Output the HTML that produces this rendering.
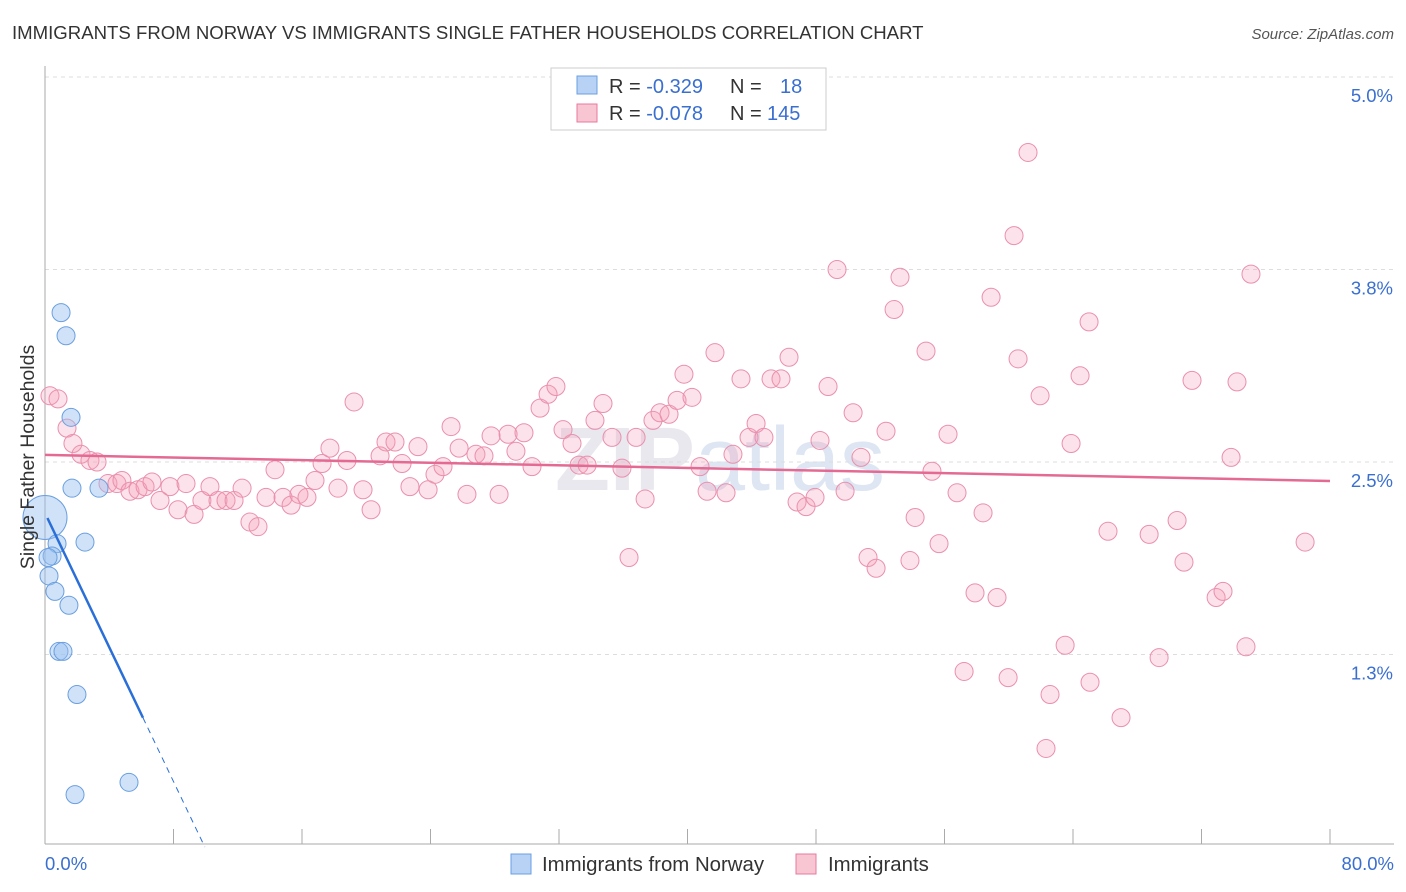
<!DOCTYPE html>
<html><head><meta charset="utf-8"><style>
body{margin:0;background:#fff;font-family:"Liberation Sans",sans-serif}
</style></head><body>
<svg id="c" width="1406" height="892" xmlns="http://www.w3.org/2000/svg" style="display:block">
<text x="12" y="39" font-size="18.6" fill="#333">IMMIGRANTS FROM NORWAY VS IMMIGRANTS SINGLE FATHER HOUSEHOLDS CORRELATION CHART</text>
<text x="1394" y="39" font-size="15" fill="#555" text-anchor="end" font-style="italic">Source: ZipAtlas.com</text>
<text x="720" y="490" font-size="90" fill="#e8e8ee" text-anchor="middle" font-weight="bold">ZIP<tspan font-weight="normal" fill="#dde6f2">atlas</tspan></text>
<g id="grid"></g><g id="axes"></g><g id="marks"></g>
<text transform="translate(34,457) rotate(-90)" font-size="19.5" fill="#333" text-anchor="middle">Single Father Households</text>
<g>
<rect x="551" y="68" width="275" height="62" fill="#fff" stroke="#ccc"/>
<rect x="577" y="76" width="20" height="18" fill="#b7d2f5" stroke="#6a9fe0"/>
<rect x="577" y="104" width="20" height="18" fill="#f8c5d3" stroke="#e8799c"/>
<text x="609" y="93" font-size="20" fill="#333">R = <tspan fill="#3a6fd0">-0.329</tspan><tspan x="730">N =</tspan><tspan x="780" fill="#3a6fd0">18</tspan></text>
<text x="609" y="120" font-size="20" fill="#333">R = <tspan fill="#3a6fd0">-0.078</tspan><tspan x="730">N =</tspan><tspan x="767" fill="#3a6fd0">145</tspan></text>
</g>
<g>
<rect x="511" y="854" width="20" height="20" fill="#b7d2f5" stroke="#6a9fe0"/>
<text x="542" y="871" font-size="20.4" fill="#333">Immigrants from Norway</text>
<rect x="796" y="854" width="20" height="20" fill="#f8c5d3" stroke="#e8799c"/>
<text x="828" y="871" font-size="20.4" fill="#333">Immigrants</text>
</g>
</svg>
<script>
const yTicks=[1.25,2.5,3.75,5.0];
const yTickLabels=["1.3%","2.5%","3.8%","5.0%"];
const xTicks=[0,8,16,24,32,40,48,56,64,72,80];
const xEndLabels=["0.0%","80.0%"];
const pinkX=[.31,.81,1.37,1.74,2.24,2.80,3.24,3.92,4.48,4.79,5.29,5.79,6.23,6.66,7.16,7.78,8.28,8.78,9.28,9.77,10.27,10.77,11.27,11.77,12.27,12.76,13.26,13.76,14.32,14.82,15.32,15.81,16.31,16.81,17.25,17.74,18.24,18.80,19.24,19.80,20.30,20.86,21.23,21.79,22.23,22.72,23.22,23.85,24.28,24.78,25.28,25.78,26.27,26.83,27.33,27.77,28.27,28.83,29.32,29.82,30.32,30.82,31.32,31.81,32.25,32.81,33.25,33.75,34.24,34.74,35.30,35.92,36.36,36.80,37.36,37.85,38.29,38.85,39.35,39.78,40.28,40.78,41.22,41.71,42.40,42.83,43.33,43.83,44.27,44.76,45.20,45.82,46.32,46.82,47.38,47.94,48.25,48.75,49.31,49.81,50.31,50.80,51.24,51.74,52.36,52.86,53.23,53.85,54.17,54.85,55.22,55.66,56.22,56.78,57.22,57.90,58.40,58.90,59.27,59.96,60.33,60.58,61.20,61.95,62.57,62.32,63.51,63.88,64.44,65.06,65.00,66.18,66.99,68.74,69.36,70.48,70.91,71.41,72.91,73.34,73.84,74.21,74.77,75.08,78.45];
const pinkY=[2.93,2.91,2.72,2.62,2.55,2.51,2.50,2.36,2.36,2.38,2.31,2.32,2.34,2.37,2.25,2.34,2.19,2.36,2.16,2.25,2.34,2.25,2.25,2.25,2.33,2.11,2.08,2.27,2.45,2.27,2.22,2.29,2.27,2.38,2.49,2.59,2.33,2.51,2.89,2.32,2.19,2.54,2.63,2.63,2.49,2.34,2.60,2.32,2.42,2.47,2.73,2.59,2.29,2.55,2.54,2.67,2.29,2.68,2.57,2.69,2.47,2.85,2.94,2.99,2.71,2.62,2.48,2.48,2.77,2.88,2.66,2.46,1.88,2.66,2.26,2.77,2.82,2.81,2.90,3.07,2.92,2.47,2.31,3.21,2.30,2.55,3.04,2.66,2.75,2.66,3.04,3.04,3.18,2.24,2.21,2.27,2.64,2.99,3.75,2.31,2.82,2.53,1.88,1.81,2.70,3.49,3.70,1.86,2.14,3.22,2.44,1.97,2.68,2.30,1.14,1.65,2.17,3.57,1.62,1.10,3.97,3.17,4.51,2.93,0.99,0.64,1.31,2.62,3.06,1.07,3.41,2.05,0.84,2.03,1.23,2.12,1.85,3.03,1.62,1.66,2.53,3.02,1.30,3.72,1.98];
const blueX=[1.00,1.31,1.62,3.36,1.68,0,.75,2.49,.44,.19,.25,.62,1.49,.87,1.12,1.99,5.23,1.87];
const blueY=[3.47,3.32,2.79,2.33,2.33,2.14,1.97,1.98,1.89,1.88,1.76,1.66,1.57,1.27,1.27,0.99,0.42,0.34];
const blueSize=[9,9,9,9,9,22,9,9,9,9,9,9,9,9,9,9,9,9];
const pinkTrend=[2.546,2.377];
const blueTrend=[2.169,-0.218];
const NS="http://www.w3.org/2000/svg";
const X=v=>45+v/80*1285, Y=v=>847-v/1.25*192.5;
function mk(p,t,a){const e=document.createElementNS(NS,t);for(const k in a)e.setAttribute(k,a[k]);p.appendChild(e);return e;}
const g=document.getElementById('grid'),ax=document.getElementById('axes'),m=document.getElementById('marks');
yTicks.forEach((v,i)=>{
 const l=mk(g,'line',{x1:45,x2:1394,y1:Y(v),y2:Y(v),stroke:'#ddd','stroke-dasharray':'4,4'});
 
 
 const t=mk(ax,'text',{x:1393,y:Y(v)+25,'font-size':18.5,fill:'#3a6fd0','text-anchor':'end'});
 t.textContent=yTickLabels[i];
 
 
});
const ya=mk(ax,'line',{x1:45,x2:45,y1:66,y2:844,stroke:'#aaa'});


const xa=mk(ax,'line',{x1:45,x2:1394,y1:844,y2:844,stroke:'#aaa'});


xTicks.forEach(v=>{const t=mk(ax,'line',{x1:X(v),x2:X(v),y1:829,y2:844,stroke:'#aaa'});
 
 });
[[0,'start',45],[80,'end',1394]].forEach((d,i)=>{const t=mk(ax,'text',{x:d[2],y:870,'font-size':18.5,fill:'#3a6fd0','text-anchor':d[1]});t.textContent=xEndLabels[i];
 
 });
pinkX.forEach((x,i)=>{const c=mk(m,'circle',{cx:X(x),cy:Y(pinkY[i]),r:9,fill:'rgba(244,160,185,0.3)',stroke:'#ea90ad','stroke-width':1});
 
 });
blueX.forEach((x,i)=>{const c=mk(m,'circle',{cx:X(x),cy:Y(blueY[i]),r:blueSize[i],fill:'rgba(150,190,240,0.45)',stroke:'#6a9fe0','stroke-width':1});
 
 });
const pl=mk(m,'line',{x1:X(0),y1:Y(pinkTrend[0]),x2:X(80),y2:Y(pinkTrend[1]),stroke:'#e46a93','stroke-width':2.5});


const bEnd=6.1, bZero=-blueTrend[0]/blueTrend[1];
const bl=mk(m,'line',{x1:X(0.15),y1:Y(blueTrend[0]+blueTrend[1]*0.15),x2:X(bEnd),y2:Y(blueTrend[0]+blueTrend[1]*bEnd),stroke:'#2a6fd8','stroke-width':2.5});


const bd=mk(m,'line',{x1:X(bEnd),y1:Y(blueTrend[0]+blueTrend[1]*bEnd),x2:X(bZero),y2:Y(0),stroke:'#2a6fd8','stroke-width':1,'stroke-dasharray':'6,5'});


</script>
</body></html>
